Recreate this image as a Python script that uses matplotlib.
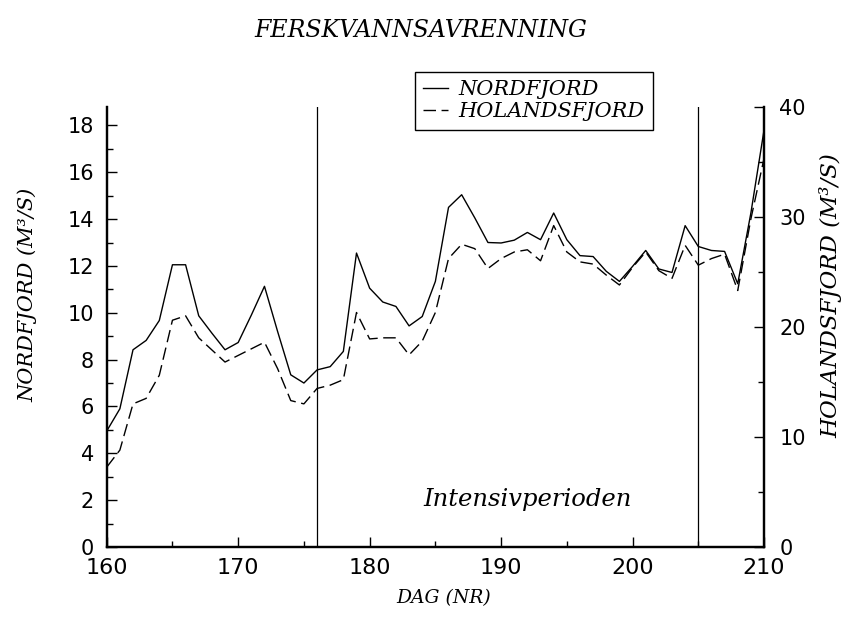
import matplotlib.pyplot as plt
import numpy as np
from matplotlib.ticker import MultipleLocator

dag = np.arange(160, 211)

# NORDFJORD, venstre akse (M3/S)
nordfjord = [4.95, 5.9, 8.42, 8.82, 9.67, 12.05, 12.05, 9.87, 9.13, 8.42,
             8.73, 9.9, 11.13, 9.2, 7.35, 7.0, 7.56, 7.7, 8.35, 12.55,
             11.05, 10.46, 10.27, 9.44, 9.84, 11.34, 14.5, 15.04, 14.05, 13.0,
             12.98, 13.1, 13.43, 13.12, 14.26, 13.12, 12.44, 12.4, 11.77, 11.34,
             11.98, 12.66, 11.87, 11.72, 13.72, 12.83, 12.66, 12.62, 11.24, 14.26,
             17.8]

# HOLANDSFJORD, hoyre akse (M3/S)
holandsfjord = [7.25, 8.8, 13.0, 13.5, 15.6, 20.6, 21.0, 19.0, 17.9, 16.8,
                17.4, 18.0, 18.6, 16.2, 13.3, 13.0, 14.4, 14.7, 15.2, 21.3,
                18.9, 19.0, 19.0, 17.45, 18.7, 21.3, 26.2, 27.5, 27.1, 25.3,
                26.2, 26.8, 27.0, 26.0, 29.2, 26.8, 25.9, 25.7, 24.7, 23.8,
                25.4, 26.8, 25.1, 24.4, 27.4, 25.6, 26.2, 26.6, 23.3, 29.8,
                35.3]

periode = [176, 205]

serif = {'family': 'DejaVu Serif', 'style': 'italic'}
plt.rcParams['font.family'] = 'DejaVu Sans'

fig = plt.figure(figsize=(8.51, 6.17), dpi=100)
ax = fig.add_axes([0.1254, 0.1135, 0.7724, 0.7136])
ax2 = ax.twinx()

l1, = ax.plot(dag, nordfjord, color='black', lw=1.0)
l2, = ax2.plot(dag, holandsfjord, color='black', lw=1.0, dashes=(9, 4))

for p in periode:
    ax.axvline(p, color='black', lw=0.9)

ax.set_xlim(160, 210)
ax.set_ylim(0, 18.8)
ax2.set_ylim(0, 40)

ax.xaxis.set_major_locator(MultipleLocator(10))
ax.xaxis.set_minor_locator(MultipleLocator(5))
ax.yaxis.set_major_locator(MultipleLocator(2))
ax.yaxis.set_minor_locator(MultipleLocator(1))
ax2.yaxis.set_major_locator(MultipleLocator(10))
ax2.yaxis.set_minor_locator(MultipleLocator(5))

for a in (ax, ax2):
    a.tick_params(which='both', direction='in', width=1)
    a.tick_params(which='major', length=7)
    a.tick_params(which='minor', length=4)
    a.spines['top'].set_visible(False)
    for s in ('left', 'right', 'bottom'):
        a.spines[s].set_linewidth(1.6)
ax.tick_params(axis='x', labelsize=16, pad=8)
ax.tick_params(axis='y', labelsize=15, pad=9)
ax2.tick_params(axis='y', labelsize=15, pad=11)

ax.set_xlabel('DAG (NR)', fontdict=serif, fontsize=13.5, va='center')
ax.xaxis.set_label_coords(0.513, -0.116)
ax.set_ylabel('NORDFJORD (M³/S)', fontdict=serif, fontsize=15, va='center')
ax.yaxis.set_label_coords(-0.121, 0.572)
ax2.set_ylabel('HOLANDSFJORD (M³/S)', fontdict=serif, fontsize=16.5,
               va='center', rotation=90)
ax2.yaxis.set_label_coords(1.101, 0.57)

fig.text(0.495, 0.951, 'FERSKVANNSAVRENNING', ha='center', va='center',
         fontdict=serif, fontsize=17)
ax.text(0.641, 0.107, 'Intensivperioden', transform=ax.transAxes,
        ha='center', va='center', fontdict=serif, fontsize=17.5)

leg = ax.legend([l1, l2], ['NORDFJORD', 'HOLANDSFJORD'],
                loc='upper left', bbox_to_anchor=(0.4877, 0.8833),
                bbox_transform=fig.transFigure, borderaxespad=0,
                prop={'family': 'DejaVu Serif', 'style': 'italic', 'size': 15},
                handlelength=1.2, handletextpad=0.5, borderpad=0.4,
                labelspacing=0.15, fancybox=False, framealpha=1)
leg.get_frame().set_edgecolor('black')
leg.get_frame().set_linewidth(1.0)
leg.set_zorder(5)

fig.savefig('out.png', dpi=100)
